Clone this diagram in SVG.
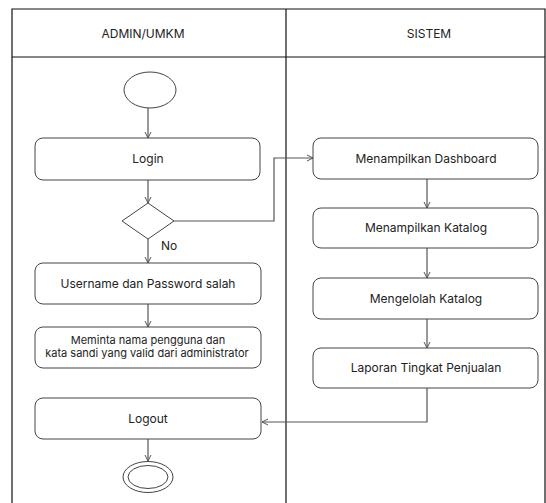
<svg xmlns="http://www.w3.org/2000/svg" width="546" height="503" viewBox="0 0 546 503">
<defs>
<style>
.lane{fill:none;stroke:#111;stroke-width:1.2}
.box{fill:#fff;stroke:#444;stroke-width:1}
.t{font-family:Inter,"Open Sans","Liberation Sans",sans-serif;font-size:12px;fill:#222;text-anchor:middle}
.s{font-size:11px}
.c{fill:none;stroke:#555;stroke-width:1.2}
</style>
<marker id="a" markerWidth="8" markerHeight="8" refX="7" refY="4" orient="auto" markerUnits="userSpaceOnUse">
<path d="M1,1 L7,4 L1,7" fill="none" stroke="#555" stroke-width="1"/>
</marker>
</defs>
<rect width="546" height="503" fill="#fff"/>
<g id="lanes">
<path class="lane" d="M12,503 V9 H545 V503 M12,57 H545 M286,9 V503"/>
<text class="t" x="143" y="38">ADMIN/UMKM</text>
<text class="t" x="429" y="38">SISTEM</text>
</g>
<g id="connectors">
<path class="c" d="M148,108 V138" marker-end="url(#a)"/>
<path class="c" d="M148,180 V203" marker-end="url(#a)"/>
<path class="c" d="M174,221 H274 V158 H313" marker-end="url(#a)"/>
<path class="c" d="M148,239 V263" marker-end="url(#a)"/>
<path class="c" d="M148,304 V327" marker-end="url(#a)"/>
<path class="c" d="M427,179 V208" marker-end="url(#a)"/>
<path class="c" d="M427,248 V278" marker-end="url(#a)"/>
<path class="c" d="M427,319 V348" marker-end="url(#a)"/>
<path class="c" d="M427,388 V422 H262" marker-end="url(#a)"/>
<path class="c" d="M148,439 V461" marker-end="url(#a)"/>
<text class="t" x="169" y="250">No</text>
</g>
<g id="start"><ellipse cx="150" cy="90" rx="26" ry="18" fill="#fff" stroke="#444" stroke-width="1"/></g>
<g id="login"><rect class="box" x="35" y="138" width="225" height="42" rx="8"/><text class="t" x="148" y="163">Login</text></g>
<g id="decision"><polygon points="148,203 174,221 148,239 122,221" fill="#fff" stroke="#444" stroke-width="1"/></g>
<g id="username"><rect class="box" x="35" y="263" width="226" height="41" rx="8"/><text class="t" x="148" y="288">Username dan Password salah</text></g>
<g id="meminta"><rect class="box" x="35" y="327" width="226" height="41" rx="8"/><text class="t s" x="148" y="344">Meminta nama pengguna dan</text><text class="t s" x="147" y="357">kata sandi yang valid dari administrator</text></g>
<g id="logout"><rect class="box" x="35" y="398" width="226" height="41" rx="8"/><text class="t" x="148" y="423">Logout</text></g>
<g id="end"><ellipse cx="148" cy="477" rx="25" ry="15.5" fill="#fff" stroke="#444" stroke-width="1"/><ellipse cx="148" cy="477" rx="20" ry="11.5" fill="none" stroke="#444" stroke-width="1"/></g>
<g id="dashboard"><rect class="box" x="313" y="138" width="225" height="41" rx="8"/><text class="t" x="426" y="163">Menampilkan Dashboard</text></g>
<g id="katalog"><rect class="box" x="313" y="208" width="225" height="40" rx="8"/><text class="t" x="426" y="232">Menampilkan Katalog</text></g>
<g id="mengelolah"><rect class="box" x="313" y="278" width="225" height="41" rx="8"/><text class="t" x="426" y="303">Mengelolah Katalog</text></g>
<g id="laporan"><rect class="box" x="313" y="348" width="225" height="40" rx="8"/><text class="t" x="426" y="372">Laporan Tingkat Penjualan</text></g>
</svg>
